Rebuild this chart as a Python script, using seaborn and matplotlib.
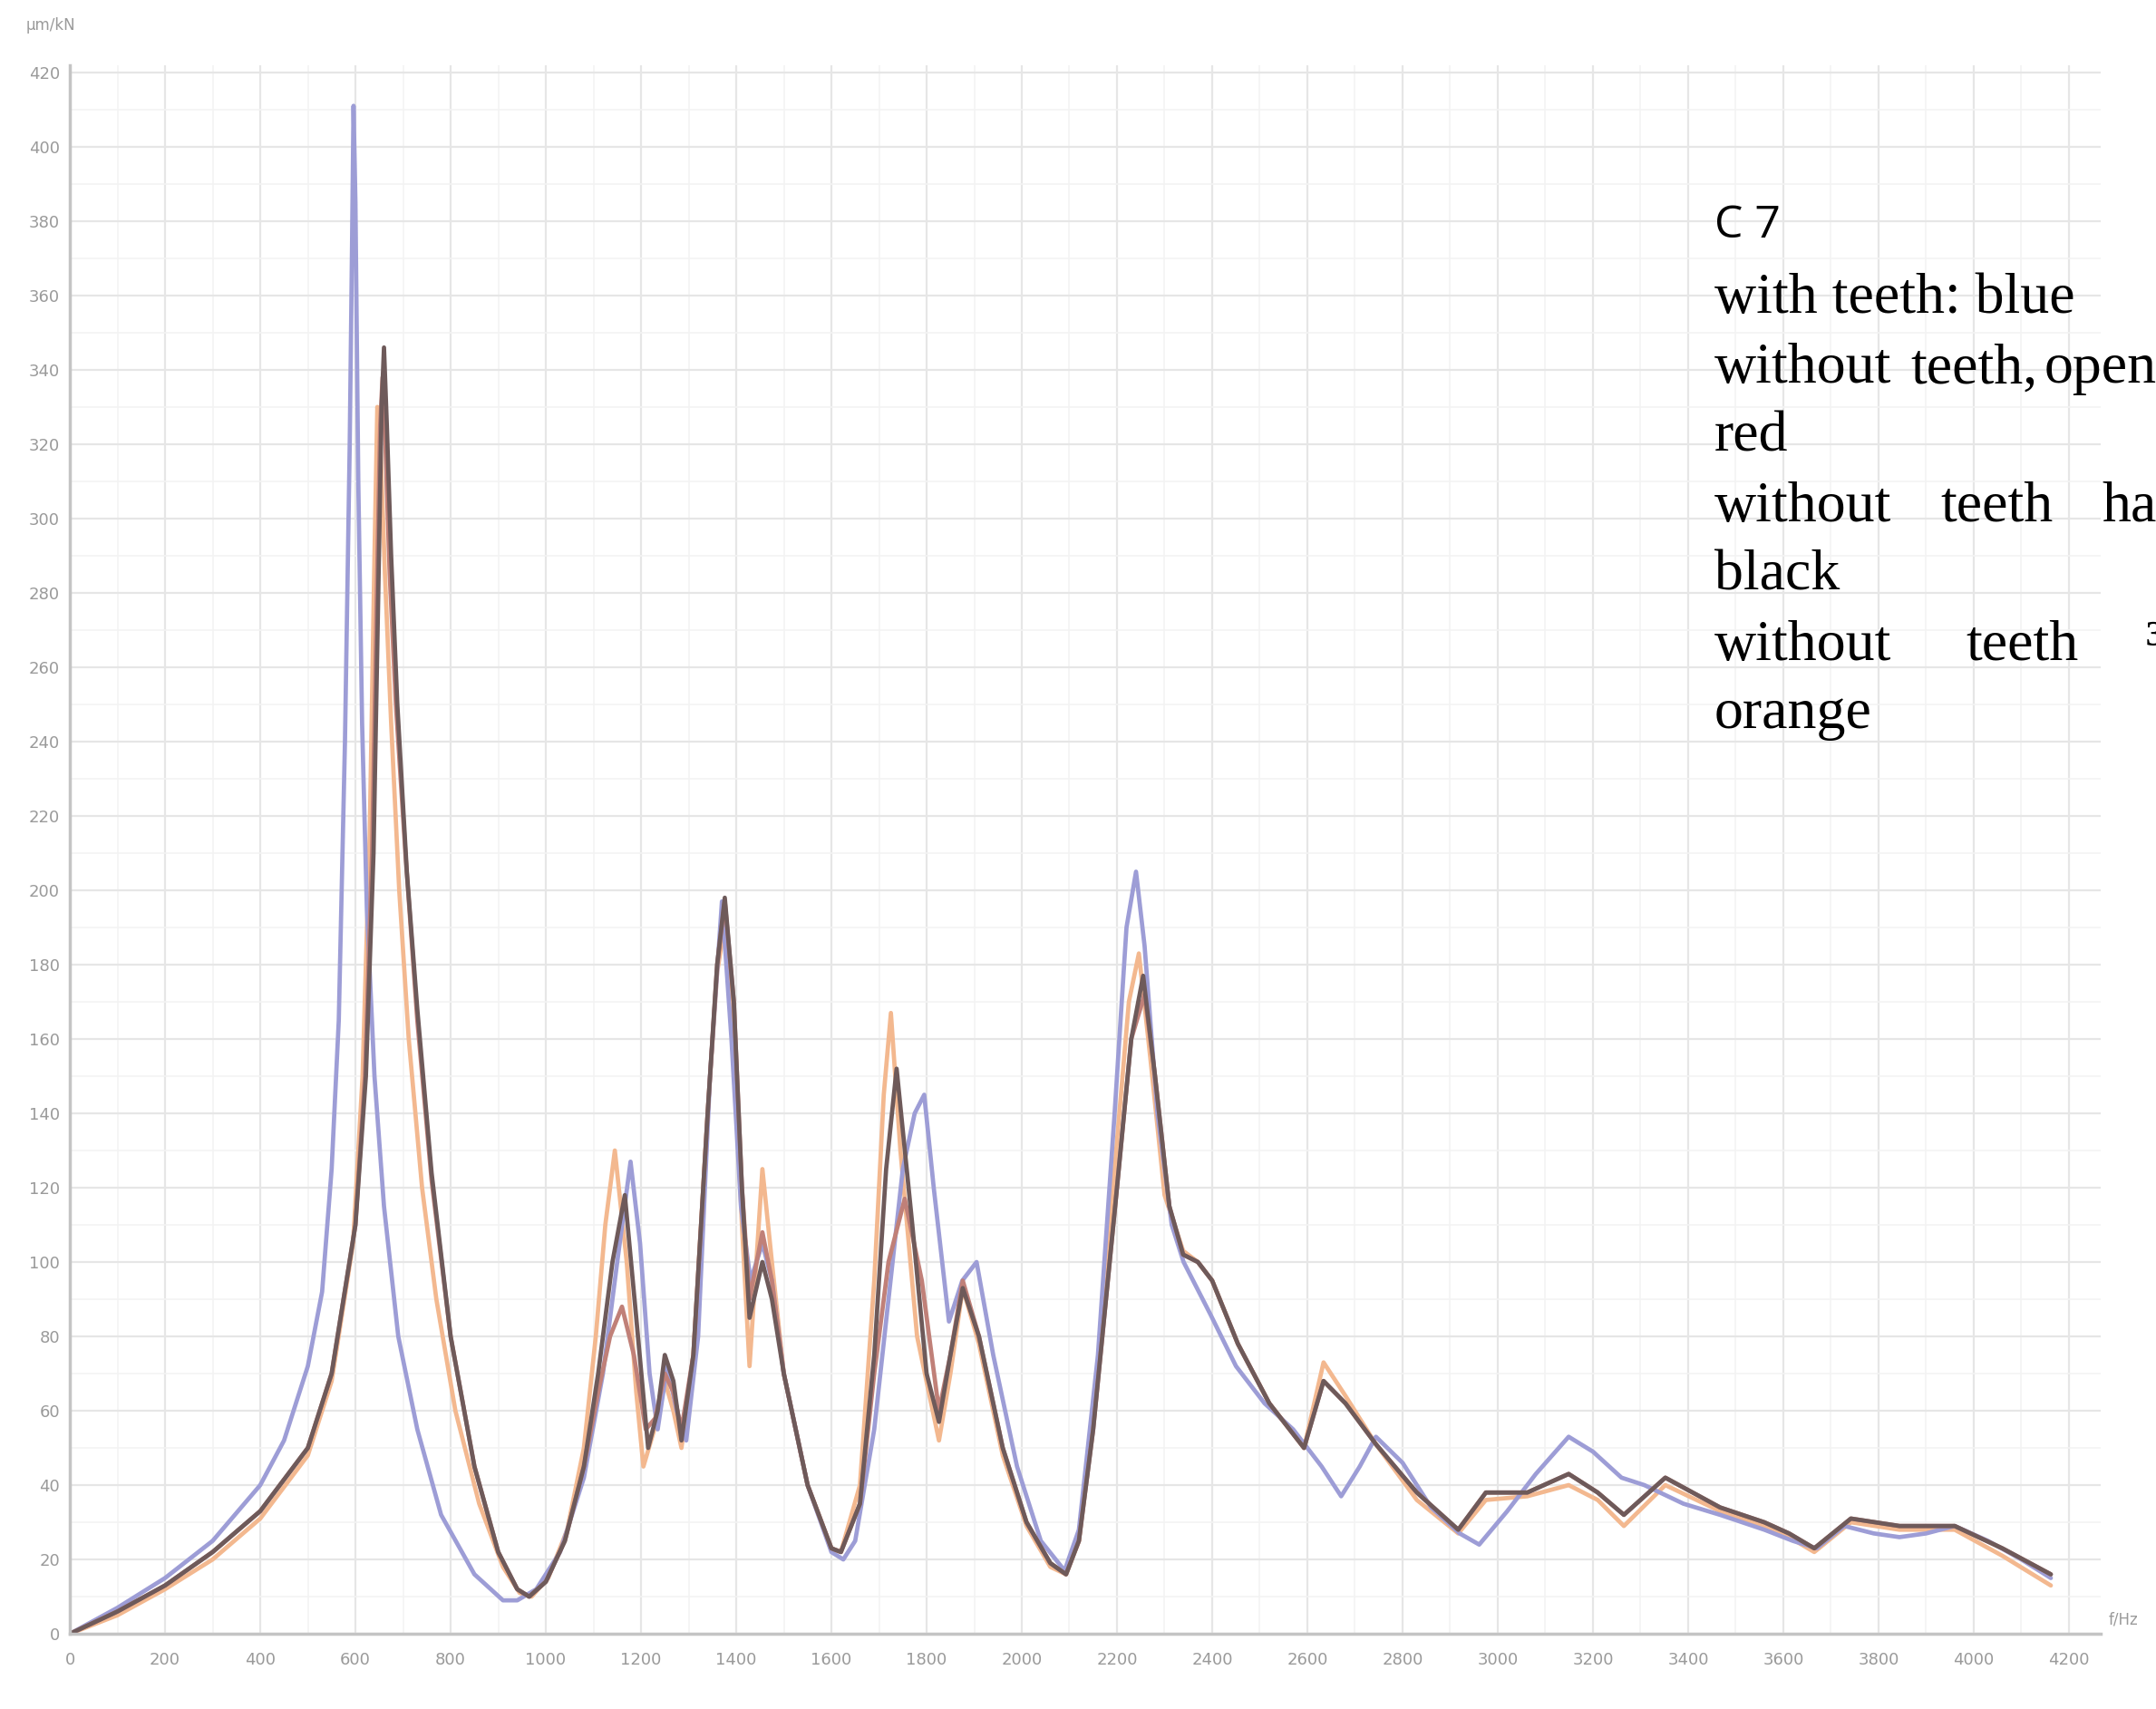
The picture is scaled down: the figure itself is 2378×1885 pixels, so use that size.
import pandas as pd
import numpy as np
import seaborn as sns
import matplotlib.pyplot as plt
from matplotlib.ticker import MultipleLocator

# === Data (frequency in Hz, response) ===
f_blue = [0, 100, 200, 300, 400, 450, 500, 530, 550, 565, 578, 588, 593, 596, 600, 606, 614,
          624, 640, 660, 690, 730, 780, 850, 910, 940, 980, 1030, 1080, 1120, 1150, 1178, 1198,
          1218, 1235, 1255, 1275, 1295, 1320, 1345, 1370, 1390, 1410, 1430, 1455, 1475, 1500,
          1550, 1600, 1625, 1650, 1690, 1720, 1750, 1775, 1795, 1815, 1847, 1875, 1905, 1940,
          1990, 2040, 2090, 2120, 2160, 2195, 2220, 2240, 2258, 2285, 2315, 2340, 2396, 2450,
          2510, 2570, 2630, 2671, 2710, 2744, 2800, 2860, 2920, 2961, 3020, 3080, 3149, 3200,
          3260, 3308, 3390, 3467, 3560, 3620, 3670, 3728, 3790, 3844, 3900, 3960, 4030, 4100,
          4162]
v_blue = [0, 7, 15, 25, 40, 52, 72, 92, 125, 165, 240, 320, 375, 411, 385, 310, 245,
          195, 150, 115, 80, 55, 32, 16, 9, 9, 12, 22, 42, 70, 100, 127, 105,
          70, 55, 72, 60, 52, 80, 150, 197, 160, 115, 95, 105, 95, 70,
          40, 22, 20, 25, 55, 90, 125, 140, 145, 120, 84, 95, 100, 75,
          45, 25, 17, 28, 75, 140, 190, 205, 185, 140, 110, 100, 86, 72,
          62, 55, 45, 37, 45, 53, 46, 34, 27, 24, 33, 43, 53, 49,
          42, 40, 35, 32, 28, 25, 23, 29, 27, 26, 27, 29, 25, 20,
          15]

f_red = [0, 100, 200, 300, 400, 500, 550, 600, 620, 635, 645, 652, 657, 663, 672, 685, 705,
         730, 760, 800, 850, 900, 940, 965, 1000, 1040, 1080, 1110, 1135, 1160, 1185, 1210,
         1230, 1250, 1268, 1285, 1310, 1340, 1360, 1376, 1395, 1412, 1428, 1455, 1475, 1500,
         1550, 1600, 1620, 1660, 1690, 1720, 1754, 1790, 1826, 1850, 1876, 1910, 1960, 2010,
         2060, 2093, 2120, 2150, 2200, 2230, 2258, 2280, 2310, 2339, 2370, 2400, 2454, 2520,
         2593, 2634, 2680, 2744, 2830, 2917, 2975, 3062, 3149, 3210, 3265, 3352, 3467, 3560,
         3612, 3665, 3742, 3844, 3960, 4060, 4162]
v_red = [0, 6, 13, 22, 33, 50, 70, 110, 150, 210, 280, 325, 338, 320, 285, 250, 210,
         165, 122, 80, 45, 22, 12, 10, 14, 25, 45, 65, 80, 88, 75, 55,
         58, 70, 65, 55, 75, 140, 180, 197, 170, 120, 90, 108, 95, 70,
         40, 23, 22, 35, 70, 100, 117, 95, 60, 75, 95, 80, 50, 30,
         19, 16, 25, 55, 120, 160, 172, 150, 115, 102, 100, 95, 78, 62,
         50, 68, 62, 51, 38, 28, 38, 38, 43, 38, 32, 42, 34, 30,
         27, 23, 31, 29, 29, 23, 16]

f_black = [0, 100, 200, 300, 400, 500, 550, 600, 622, 638, 648, 655, 660, 666, 675, 688, 708,
           730, 760, 800, 850, 900, 940, 965, 1000, 1040, 1080, 1110, 1140, 1166, 1190, 1215,
           1235, 1250, 1268, 1285, 1310, 1340, 1360, 1376, 1395, 1412, 1428, 1455, 1475, 1500,
           1550, 1600, 1620, 1660, 1690, 1715, 1737, 1770, 1800, 1826, 1850, 1876, 1910, 1960,
           2010, 2060, 2093, 2120, 2150, 2200, 2230, 2255, 2280, 2310, 2339, 2370, 2400, 2454,
           2520, 2593, 2634, 2680, 2744, 2830, 2917, 2975, 3062, 3149, 3210, 3265, 3352, 3467,
           3560, 3612, 3665, 3742, 3844, 3960, 4060, 4162]
v_black = [0, 6, 13, 22, 33, 50, 70, 110, 150, 210, 280, 330, 346, 325, 290, 250, 205,
           168, 124, 80, 45, 22, 12, 10, 14, 25, 45, 70, 100, 118, 85, 50,
           60, 75, 68, 52, 75, 140, 180, 198, 170, 120, 85, 100, 90, 70,
           40, 23, 22, 35, 75, 125, 152, 110, 70, 57, 75, 93, 80, 50,
           30, 19, 16, 25, 55, 120, 160, 177, 150, 115, 102, 100, 95, 78,
           62, 50, 68, 62, 51, 38, 28, 38, 38, 43, 38, 32, 42, 34,
           30, 27, 23, 31, 29, 29, 23, 16]

f_orange = [0, 100, 200, 300, 400, 500, 550, 595, 615, 630, 640, 646, 652, 662, 675, 692, 712,
            740, 770, 810, 860, 910, 945, 970, 1005, 1045, 1080, 1105, 1125, 1145, 1170, 1190,
            1205, 1228, 1250, 1268, 1285, 1310, 1340, 1360, 1375, 1395, 1412, 1428, 1455, 1475,
            1500, 1550, 1600, 1620, 1660, 1690, 1710, 1725, 1745, 1780, 1826, 1850, 1876, 1910,
            1960, 2010, 2060, 2093, 2120, 2150, 2195, 2225, 2246, 2270, 2300, 2339, 2370, 2400,
            2454, 2520, 2593, 2634, 2680, 2744, 2830, 2917, 2975, 3062, 3149, 3210, 3265, 3352,
            3467, 3560, 3612, 3665, 3742, 3844, 3960, 4060, 4162]
v_orange = [0, 5, 12, 20, 31, 48, 68, 105, 150, 215, 290, 330, 322, 285, 245, 200, 160,
            120, 90, 60, 35, 18, 11, 10, 15, 28, 50, 80, 110, 130, 100, 65,
            45, 55, 68, 60, 50, 75, 140, 178, 190, 160, 110, 72, 125, 100,
            70, 40, 23, 22, 40, 95, 145, 167, 130, 80, 52, 70, 93, 78,
            48, 29, 18, 16, 25, 58, 125, 170, 183, 155, 118, 103, 100, 95,
            78, 62, 50, 73, 64, 51, 36, 27, 36, 37, 40, 36, 29, 40,
            33, 29, 26, 22, 30, 28, 28, 21, 13]

series_names = ["with teeth", "without teeth, open", "without teeth half open", "without teeth 3/4 open"]
series_colors = ["#9d9dd6", "#c08078", "#6e5a5a", "#f3b88f"]

frames = []
for name, f, v in zip(series_names,
                      [f_blue, f_red, f_black, f_orange],
                      [v_blue, v_red, v_black, v_orange]):
    frames.append(pd.DataFrame({"freq": f, "value": v, "series": name}))
df = pd.concat(frames, ignore_index=True)

# === Plot ===
sns.set_style("white")
fig = plt.figure(figsize=(23.78, 18.85), dpi=100)
ax = fig.add_axes([0.0324, 0.044, 0.942, 0.918])

# draw order: orange, blue, red, black on top
order = [3, 0, 1, 2]
for i in order:
    sub = df[df["series"] == series_names[i]]
    sns.lineplot(data=sub, x="freq", y="value", color=series_colors[i], linewidth=3.4,
                 estimator=None, sort=False, ax=ax, legend=False)

ax.set_xlim(0, 4267)
ax.set_ylim(0, 422)
ax.xaxis.set_minor_locator(MultipleLocator(100))
ax.yaxis.set_minor_locator(MultipleLocator(10))
ax.grid(which="major", color="#e6e6e6", linewidth=1.6)
ax.grid(which="minor", color="#f3f3f3", linewidth=1.2)
ax.set_axisbelow(True)

ax.set_xticks(np.arange(0, 4201, 200))
ax.set_yticks(np.arange(0, 421, 20))
ax.tick_params(axis="both", which="both", length=0, labelsize=13, labelcolor="#9a9a9a")
ax.tick_params(axis="x", pad=14)
ax.tick_params(axis="y", pad=8)
ax.set_xlabel("")
ax.set_ylabel("")

for side in ["top", "right"]:
    ax.spines[side].set_visible(False)
for side in ["left", "bottom"]:
    ax.spines[side].set_color("#c4c4c4")
    ax.spines[side].set_linewidth(2.5)

# axis unit labels
fig.text(0.012, 0.985, "µm/kN", fontsize=12, color="#9a9a9a", ha="left", va="center")
fig.text(0.978, 0.052, "f/Hz", fontsize=12, color="#9a9a9a", ha="left", va="center")

# annotation block on the right (justified text, cut by the figure edge as in the source)
fig.text(0.795, 0.868, "C 7", fontsize=36, family="Open Sans", color="black", va="center")
serif = "Liberation Serif"
fs = 46
rows = [
    (0.825, [(0.795, "with teeth: blue")]),
    (0.784, [(0.795, "without"), (0.886, "teeth,"), (0.948, "open:")]),
    (0.744, [(0.795, "red")]),
    (0.703, [(0.795, "without"), (0.900, "teeth"), (0.975, "half")]),
    (0.663, [(0.795, "black")]),
    (0.622, [(0.795, "without"), (0.912, "teeth"), (0.9955, "³/₄ open:")]),
    (0.582, [(0.795, "orange")]),
]
for y, words in rows:
    for x, w in words:
        fig.text(x, y, w, fontsize=fs, family=serif, color="black", va="center")

plt.savefig("out.png", dpi=100)
